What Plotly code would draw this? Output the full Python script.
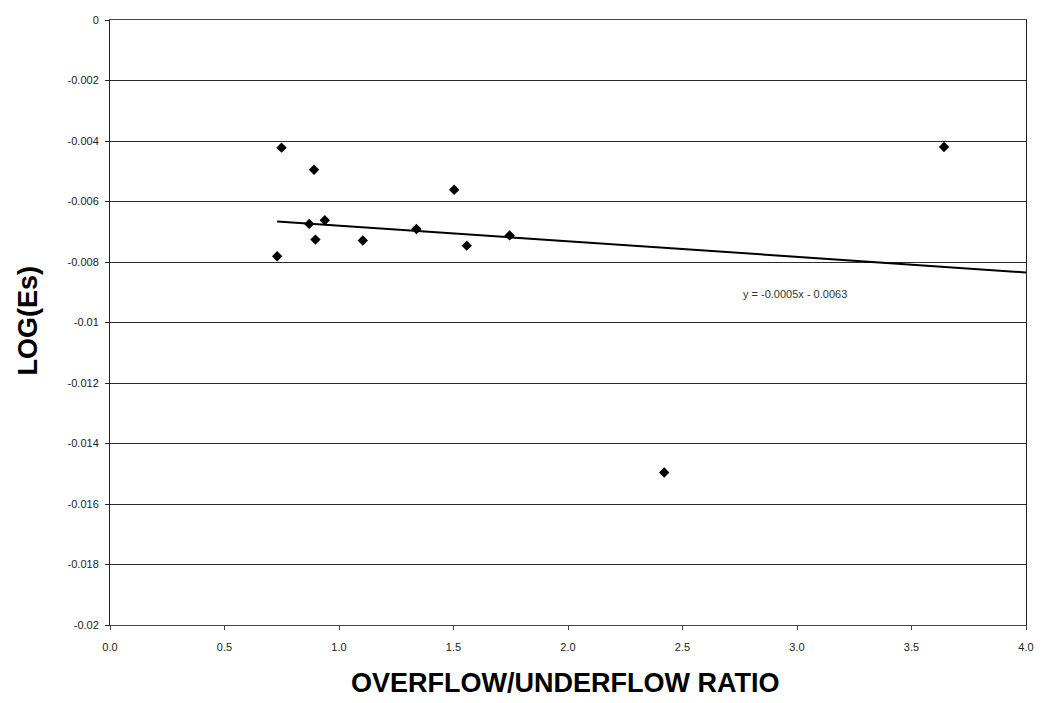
import numpy as np
import plotly.graph_objects as go

ratio = [0.749, 0.891, 1.503, 0.938, 0.870, 0.897, 1.104, 1.338, 1.558, 1.745, 0.730, 3.642, 2.420]
log_es = [-0.00422, -0.00495, -0.00561, -0.00662, -0.00674, -0.00726, -0.00729,
          -0.00691, -0.00746, -0.00712, -0.00781, -0.00420, -0.01496]

x_ticks = [0.0, 0.5, 1.0, 1.5, 2.0, 2.5, 3.0, 3.5, 4.0]
x_ticktext = ["0.0", "0.5", "1.0", "1.5", "2.0", "2.5", "3.0", "3.5", "4.0"]
y_ticks = [0, -0.002, -0.004, -0.006, -0.008, -0.01, -0.012, -0.014, -0.016, -0.018, -0.02]
y_ticktext = ["0", "-0.002", "-0.004", "-0.006", "-0.008", "-0.01", "-0.012",
              "-0.014", "-0.016", "-0.018", "-0.02"]

slope, intercept = np.polyfit(ratio, log_es, 1)
trend_x = [min(ratio), 4.0]
trend_y = [slope * v + intercept for v in trend_x]

fig = go.Figure()
fig.add_trace(go.Scatter(x=trend_x, y=trend_y, mode="lines",
                         line=dict(color="black", width=2), showlegend=False))
fig.add_trace(go.Scatter(x=ratio, y=log_es, mode="markers",
                         marker=dict(symbol="diamond", size=8, color="black"),
                         showlegend=False))

fig.add_annotation(x=2.99, y=-0.00905, xref="x", yref="y",
                   text="y = -0.0005x - 0.0063", showarrow=False,
                   font=dict(family="Liberation Sans", size=11, color="#333333"))

fig.add_annotation(x=0.497, y=-0.0959, xref="paper", yref="paper",
                   xanchor="center", yanchor="middle",
                   text="<b>OVERFLOW/UNDERFLOW RATIO</b>", showarrow=False,
                   font=dict(family="Liberation Sans", size=27, color="black"))
fig.add_annotation(x=-0.089, y=0.504, xref="paper", yref="paper",
                   xanchor="center", yanchor="middle", textangle=-90,
                   text="<b>LOG(Es)</b>", showarrow=False,
                   font=dict(family="Liberation Sans", size=27, color="black"))

fig.update_layout(
    width=1045, height=703,
    margin=dict(l=110, r=11, t=20, b=78),
    paper_bgcolor="white", plot_bgcolor="white",
    font=dict(family="Liberation Sans", size=11, color="#222222"),
    xaxis=dict(range=[0, 4], tickvals=x_ticks, ticktext=x_ticktext,
               showgrid=False, zeroline=False,
               showline=True, linecolor="#444444", linewidth=1, mirror=True,
               ticks="outside", ticklen=4, tickcolor="#444444",
               ticklabelstandoff=8),
    yaxis=dict(range=[-0.02, 0], tickvals=y_ticks, ticktext=y_ticktext,
               showgrid=True, gridcolor="#2a2a2a", gridwidth=1, zeroline=False,
               showline=True, linecolor="#222222", linewidth=1, mirror=True,
               ticks="outside", ticklen=4, tickcolor="#222222",
               ticklabelstandoff=4),
)

fig.write_html("out.html")
